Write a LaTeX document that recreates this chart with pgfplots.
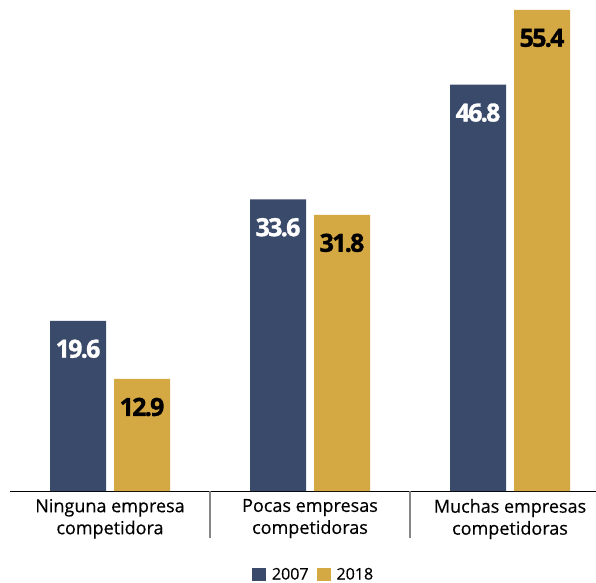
\documentclass[border=0pt]{standalone}
\usepackage{fontspec}
\setmainfont{Open Sans}
\newfontfamily\barfont{Open Sans}[LetterSpace=-7, BoldFeatures={FakeBold=1.2}]
\newfontfamily\labfont{Open Sans}[FakeBold=0.4]
\usepackage{pgfplots}
\pgfplotsset{compat=1.18}
\definecolor{navy}{RGB}{58,74,106}
\definecolor{gold}{RGB}{212,168,67}
\begin{document}
\begin{tikzpicture}
\begin{axis}[
  width=586bp, height=491bp, scale only axis,
  xmin=-0.5, xmax=2.43, ymin=0, ymax=56.55,
  axis x line=bottom, axis y line=none,
  axis line style={-, black, line width=0.9pt},
  xtick={0,1,2},
  xticklabels={{Ninguna empresa\\competidora},{Pocas empresas\\competidoras},{Muchas empresas\\competidoras}},
  xticklabel style={align=center, font=\labfont\fontsize{18bp}{22bp}\selectfont, yshift=-4.5bp},
  major tick length=0pt,
  extra x ticks={0.5,1.5},
  extra x tick labels={},
  extra x tick style={major tick length=47bp, tick align=outside, tick style={draw=gray!95, line width=1.3pt}},
  ytick=\empty,
  legend columns=2,
  legend style={at={(0.518,-0.1874)}, anchor=south, draw=none, inner sep=0pt, outer sep=0pt,
    font=\labfont\fontsize{16bp}{18bp}\selectfont, column sep=4bp,
    /tikz/every even column/.append style={column sep=6bp}},
  legend image code/.code={\fill[#1] (0bp,-6.5bp) rectangle (14bp,6.5bp);},
]
\addplot[ybar, bar width=0.28, bar shift=0pt, fill=navy, draw=none,
  nodes near coords={\pgfmathprintnumber[fixed, precision=1, fixed zerofill, assume math mode=true]{\pgfplotspointmeta}},
  nodes near coords style={white, anchor=center, yshift=-28bp, font=\barfont\bfseries\fontsize{25bp}{28bp}\selectfont}]
  coordinates {(-0.16,19.6) (0.84,33.6) (1.84,46.8)};
\addlegendentry{2007}
\addplot[ybar, bar width=0.28, bar shift=0pt, fill=gold, draw=none,
  nodes near coords={\pgfmathprintnumber[fixed, precision=1, fixed zerofill, assume math mode=true]{\pgfplotspointmeta}},
  nodes near coords style={black, anchor=center, yshift=-28bp, font=\barfont\bfseries\fontsize{25bp}{28bp}\selectfont}]
  coordinates {(0.16,12.9) (1.16,31.8) (2.16,55.4)};
\addlegendentry{2018}
\end{axis}
\pgfresetboundingbox
\path ([shift={(-10bp,-92bp)}]current axis.south west) rectangle (current axis.north east);
\end{tikzpicture}
\end{document}
